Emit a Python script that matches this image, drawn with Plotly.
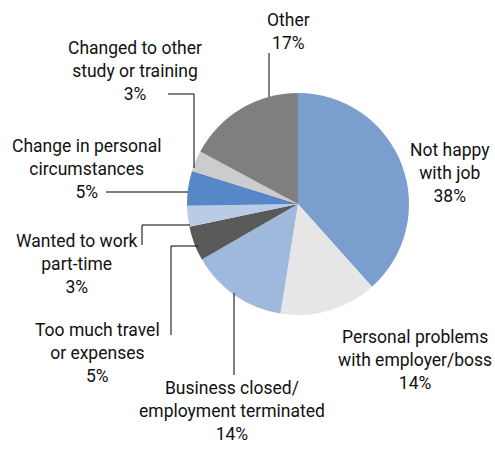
import plotly.graph_objects as go

W, H = 495, 450

# data, clockwise from 12 o'clock
reasons = [
    "Not happy<br>with job",
    "Personal problems<br>with employer/boss",
    "Business closed/<br>employment terminated",
    "Too much travel<br>or expenses",
    "Wanted to work<br>part-time",
    "Change in personal<br>circumstances",
    "Changed to other<br>study or training",
    "Other",
]
shares = [38, 14, 14, 5, 3, 5, 3, 17]
colors = ["#7A9FCE", "#E6E6E6", "#9FB9DC", "#595959", "#B8CCE6", "#5787C6", "#CCCCCC", "#7F7F7F"]

# label block centre (px) and leader polylines (px), same order as reasons
label_pos = [(450, 173), (415, 360), (232, 411), (97, 353), (77, 264), (86, 169), (135, 71), (288, 31)]
leaders = [
    None,
    None,
    [(234, 375), (234, 293)],
    [(171, 335), (171, 246), (198, 246)],
    [(142, 245), (142, 225), (190, 225)],
    [(106, 192), (188, 192)],
    [(168, 94), (194, 94), (194, 168)],
    [(269, 53), (269, 97)],
]

cx, cy, r = 298, 204, 111


def px(x, y):
    return x / W, 1 - y / H


fig = go.Figure(
    go.Pie(
        labels=reasons,
        values=shares,
        sort=False,
        direction="clockwise",
        rotation=0,
        marker=dict(colors=colors, line=dict(width=0)),
        textinfo="none",
        hoverinfo="label+percent",
        showlegend=False,
        domain=dict(x=[(cx - r) / W, (cx + r) / W], y=[1 - (cy + r) / H, 1 - (cy - r) / H]),
    )
)

for name, val, (lx, ly) in zip(reasons, shares, label_pos):
    x, y = px(lx, ly)
    fig.add_annotation(
        x=x, y=y, xref="paper", yref="paper",
        text=f"{name}<br>{val}%",
        showarrow=False, xanchor="center", yanchor="middle", align="center",
        font=dict(family="Roboto", size=17.5, color="#111111"),
    )

for pts in leaders:
    if not pts:
        continue
    path = ""
    for i, (a, b) in enumerate(pts):
        x, y = px(a, b)
        path += ("M" if i == 0 else "L") + f"{x},{y} "
    fig.add_shape(type="path", path=path.strip(), xref="paper", yref="paper",
                  line=dict(color="black", width=1))

fig.update_layout(
    width=W, height=H,
    margin=dict(l=0, r=0, t=0, b=0),
    paper_bgcolor="white",
    plot_bgcolor="white",
)

# drop the default 8px body margin so the figure sits flush in the window
fig.write_html(
    "out.html",
    config={"displayModeBar": False},
    post_script="document.body.style.margin='0';",
)
